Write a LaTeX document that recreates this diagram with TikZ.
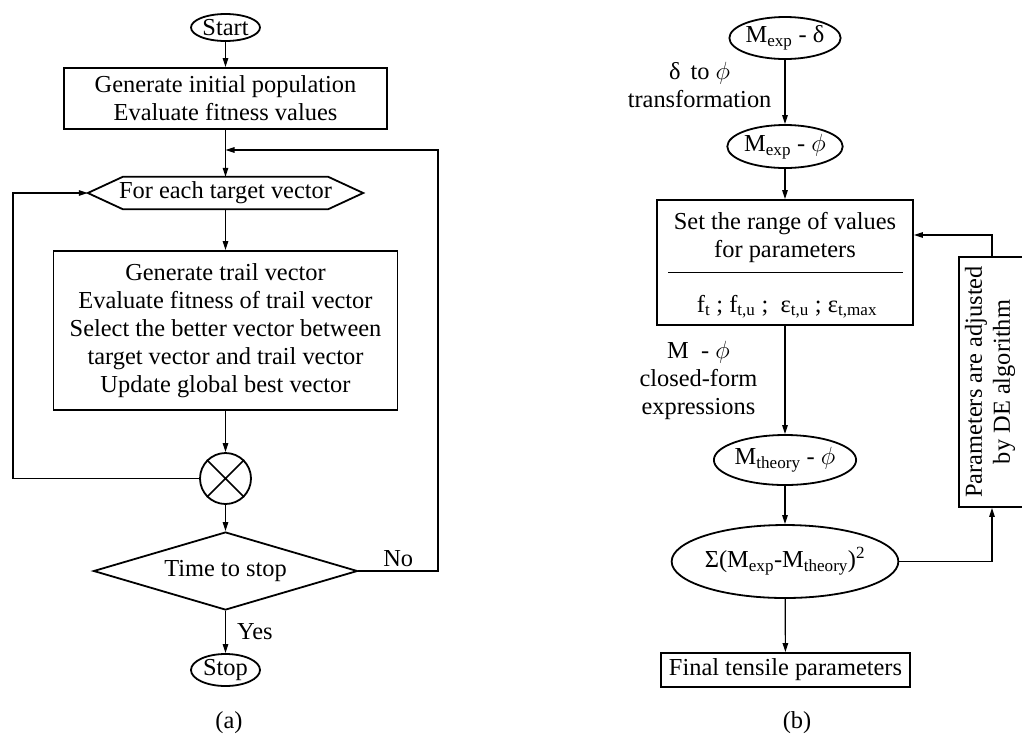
\documentclass[tikz,border=0pt]{standalone}
\usepackage{fontspec}
\setmainfont{Liberation Serif}
\usetikzlibrary{shapes.geometric,arrows.meta,calc}
\begin{document}
\begin{tikzpicture}[x=1pt,y=-1pt,
  font=\fontsize{24.4pt}{28pt}\selectfont,
  shp/.style={draw,line width=1.8pt,inner sep=0pt,align=center},
  boxn/.style={shp,rectangle},
  ell/.style={shp,ellipse},
  conn/.style={line width=1.2pt},
  arr/.style={conn,-{Triangle[length=9pt,width=5.5pt]}},
  lbl/.style={inner sep=0pt,align=center}]
\useasboundingbox (0,0) rectangle (1022,740);

% ---------------- (a) ----------------
\node[ell,minimum width=69pt,minimum height=27pt] (start) at (225.5,27.5) {Start};
\node[boxn,minimum width=323pt,minimum height=61pt] (init) at (225.5,98.5) {Generate initial population\\Evaluate fitness values};
\coordinate (join) at (225.5,150);
\node[lbl,minimum width=275pt,minimum height=32pt] (hex) at (225.5,193) {For each target vector};
\draw[line width=1.8pt] (hex.west) -- ($(hex.north west)+(35,0)$) -- ($(hex.north east)+(-35,0)$) -- (hex.east) -- ($(hex.south east)+(-35,0)$) -- ($(hex.south west)+(35,0)$) -- cycle;
\node[boxn,minimum width=344pt,minimum height=159pt] (trail) at (225.5,330.5) {Generate trail vector\\Evaluate fitness of trail vector\\Select the better vector between\\target vector and trail vector\\Update global best vector};
\node[shp,circle,minimum size=51pt] (cx) at (225.5,478.5) {};
\draw[line width=1.5pt] (cx.north west) -- (cx.south east) (cx.north east) -- (cx.south west);
\node[shp,diamond,aspect=3.38,minimum width=264pt,minimum height=78pt] (dia) at (225.5,571) {Time to stop};
\node[ell,minimum width=69pt,minimum height=32pt] (stop) at (225.5,670) {Stop};

\draw[arr] (start) -- (init);
\draw[arr] (init) -- (hex);
\draw[arr] (hex) -- (trail);
\draw[arr] (trail) -- (cx);
\draw[arr] (cx) -- (dia);
\draw[arr] (dia) -- node[lbl,anchor=west,xshift=11pt] {Yes} (stop);
\coordinate (lp) at (13,193);
\draw[arr] (cx.west) -| (lp) -- (hex.west);
\coordinate (rp) at (438,150);
\draw[arr] (dia.east) -| node[pos=0.25,lbl,anchor=south,yshift=4pt] {No} (rp) -- (join);
\node[lbl] (capa) at (229,723) {(a)};

% ---------------- (b) ----------------
\node[ell,minimum width=110pt,minimum height=42pt] (md) at (785,38) {M\textsubscript{exp} - δ};
\node[ell,minimum width=110pt,minimum height=43pt] (mp) at (785,146.5) {M\textsubscript{exp} - $\phi$};
\draw[arr] (md) -- node[lbl,anchor=east,xshift=-13pt,yshift=7pt] {δ\ \,to $\phi$\\transformation} (mp);

\node[boxn,minimum width=256pt,minimum height=125pt] (set) at (785,262.5) {};
\node[lbl] (t1) at (785,237.5) {Set the range of values\\for parameters};
\draw[conn] ($(set.north west)+(12,73)$) -- ($(set.north east)+(-11,73)$);
\node[lbl,anchor=base] (t2) at (787,312) {f\textsubscript{t} ; f\textsubscript{t,u} ;\ \ ε\textsubscript{t,u} ; ε\textsubscript{t,max}};
\coordinate (setin) at ($(set.east)+(0,-27.5)$);

\node[ell,minimum width=138pt,minimum height=50pt] (mt) at (785,460) {M\textsubscript{theory} - $\phi$};
\draw[arr] (set) -- node[lbl,anchor=east,xshift=-27pt] {M\ \ - $\phi$\\closed-form\\expressions} (mt);
\draw[arr] (mp) -- (set);

\node[ell,minimum width=196pt,minimum height=73pt] (sum) at (785,561.5) {Σ(M\textsubscript{exp}-M\textsubscript{theory})\textsuperscript{2}};
\draw[arr] (mt) -- (sum);
\node[boxn,minimum width=249pt,minimum height=34pt] (fin) at (785.5,670) {Final tensile parameters};
\draw[arr] (sum) -- (fin);

\node[boxn,rotate=90,minimum width=250pt,minimum height=66pt,text depth=9pt] (de) at (992,382) {Parameters are adjusted\\by DE algorithm};
\draw[arr] (sum.east) -| (de.west);
\draw[arr] (de.east) |- (setin);
\node[lbl] (capb) at (797,723) {(b)};
\end{tikzpicture}
\end{document}
